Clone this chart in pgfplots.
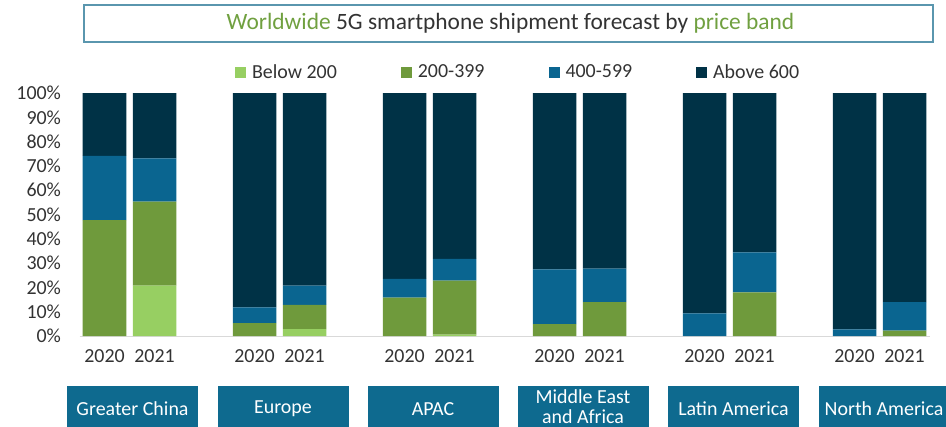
\documentclass[border=0pt]{standalone}
\usepackage{fontspec}
\setmainfont{Carlito}
\usepackage{pgfplots}
\pgfplotsset{compat=1.18}
\definecolor{lg}{HTML}{97CF62}
\definecolor{dg}{HTML}{6F9A3C}
\definecolor{bl}{HTML}{0A6590}
\definecolor{nv}{HTML}{003246}
\definecolor{bx}{HTML}{0E6A8F}
\definecolor{txt}{HTML}{333333}
\definecolor{tg}{HTML}{70A040}
\definecolor{tb}{HTML}{5A96AE}
\newcommand{\fs}{\fontsize{20}{22}\selectfont}
\begin{document}
\begin{tikzpicture}
\useasboundingbox (0,0) rectangle (946bp,-427bp);
\draw[tb, line width=1.6bp] (84bp,-5bp) rectangle (933bp,-42bp);
\node[font=\fontsize{23.5}{26}\selectfont, text=txt] at (510.5bp,-23bp) {\textcolor{tg}{Worldwide} 5G smartphone shipment forecast by \textcolor{tg}{price band}};
\begin{axis}[
  at={(79.5bp,-336bp)}, anchor=south west,
  scale only axis, width=850bp, height=243bp,
  xmin=-0.5, xmax=16.5, ymin=0, ymax=100,
  ybar stacked, bar width=43.5bp,
  axis line style={draw=none},
  tick style={draw=none},
  xtick={0,1,3,4,6,7,9,10,12,13,15,16},
  xticklabels={2020,2021,2020,2021,2020,2021,2020,2021,2020,2021,2020,2021},
  ytick={0,10,...,100},
  /pgf/number format/assume math mode=true,
  yticklabel={\pgfmathprintnumber{\tick}\%},
  ticklabel style={font=\fs, text=txt},
  yticklabel style={xshift=-15bp},
  xticklabel style={yshift=-10bp},
  extra y ticks={0}, extra y tick labels={},
  extra y tick style={grid=major, major grid style={draw=black!15, line width=1bp}},
  legend columns=4,
  legend style={at={(0.516,1.0864)}, anchor=center, draw=none, font=\fs, text=txt,
    /tikz/every odd column/.append style={column sep=4bp},
    /tikz/every even column/.append style={column sep=62bp}},
  legend image code/.code={\fill[#1] (0bp,-5.5bp) rectangle (11bp,5.5bp);},
  clip=false,
]
\addplot[fill=lg, draw=none] coordinates {(0,0) (1,20.7) (3,0) (4,2.8) (6,0) (7,0.6) (9,0) (10,0) (12,0) (13,0) (15,0) (16,0)};
\addplot[fill=dg, draw=none] coordinates {(0,47.7) (1,34.6) (3,5.3) (4,10.0) (6,15.8) (7,22.2) (9,4.9) (10,13.9) (12,0) (13,18) (15,0) (16,2.2)};
\addplot[fill=bl, draw=none] coordinates {(0,26.4) (1,17.8) (3,6.5) (4,7.9) (6,7.7) (7,8.9) (9,22.5) (10,13.8) (12,9.3) (13,16.4) (15,2.7) (16,11.7)};
\addplot[fill=nv, draw=none] coordinates {(0,25.9) (1,26.9) (3,88.2) (4,79.3) (6,76.5) (7,68.3) (9,72.6) (10,72.3) (12,90.7) (13,65.6) (15,97.3) (16,86.1)};
\legend{Below 200,200-399,400-599,Above 600}
\end{axis}
\foreach \c/\l in {132.5/Greater China, 283/Europe, 433/APAC, 733.5/Latin America, 884/North America}{
  \fill[bx] (\c bp-65.5bp,-386bp) rectangle (\c bp+65.5bp,-427bp);
  \node[font=\fs, text=white] at (\c bp,-409bp) {\l};
}
\fill[bx] (583bp-65.5bp,-386bp) rectangle (583bp+65.5bp,-427bp);
\node[font=\fs, text=white, align=center] at (583bp,-406.5bp) {Middle East\\[-2bp]and Africa};
\end{tikzpicture}
\end{document}
